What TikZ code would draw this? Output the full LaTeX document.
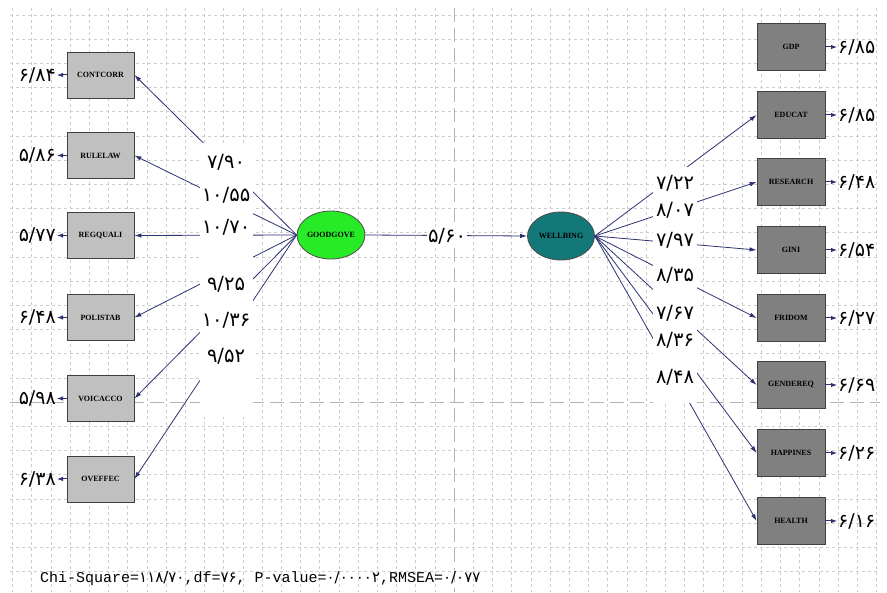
\documentclass[tikz,border=0pt]{standalone}
\usepackage{fontspec}
\usetikzlibrary{shapes.geometric,arrows.meta}
\newfontfamily\fa{DejaVu Sans}
\newfontfamily\boxf{Liberation Serif}
\newfontfamily\monof{Liberation Mono}
\definecolor{gridc}{RGB}{205,205,205}
\definecolor{axisc}{RGB}{180,180,180}
\definecolor{pathc}{RGB}{45,50,115}
\definecolor{lbox}{RGB}{192,192,192}
\definecolor{rbox}{RGB}{128,128,128}
\definecolor{ggreen}{RGB}{40,235,40}
\definecolor{wteal}{RGB}{20,120,120}
\tikzset{
  gridline/.style={draw=gridc, line width=0.6pt, dash pattern=on 3pt off 3pt},
  axisline/.style={draw=axisc, line width=0.7pt, dash pattern=on 14pt off 6pt},
  leftbox/.style={draw=black!75, line width=0.8pt, fill=lbox, minimum width=67pt, minimum height=46pt, inner sep=0pt, font=\boxf\bfseries\fontsize{8}{9}\selectfont},
  rightbox/.style={draw=black!75, line width=0.8pt, fill=rbox, minimum width=68pt, minimum height=47pt, inner sep=0pt, font=\boxf\bfseries\fontsize{8}{9}\selectfont},
  latent/.style={ellipse, draw=black!70, line width=0.8pt, minimum width=67pt, minimum height=48pt, inner sep=0pt, font=\boxf\bfseries\fontsize{8}{9}\selectfont},
  conn/.style={draw=pathc, line width=0.8pt, -{Latex[length=7pt,width=4.5pt]}},
  errarr/.style={draw=pathc, line width=1pt, -{Latex[length=6pt,width=4.5pt]}},
  lbl/.style={fill=white, inner sep=1pt, font=\fa\fontsize{19.5}{20}\selectfont},
  errlbl/.style={inner sep=1pt, font=\fa\fontsize{19}{20}\selectfont},
}
\begin{document}
\begin{tikzpicture}[x=1pt,y=-1pt]
\useasboundingbox (0,0) rectangle (887,593);
\fill[white] (0,0) rectangle (887,593);
% grid
\foreach \k in {0,...,15,17,18,...,23} {
  \pgfmathsetmacro\yy{15+24.2*\k}
  \draw[gridline] (10,\yy) -- (880,\yy);
}
\foreach \k in {0,...,22,24,25,...,45} {
  \pgfmathsetmacro\xx{12.4+19.2*\k}
  \draw[gridline] (\xx,8) -- (\xx,592);
}
\draw[axisline] (10,402) -- (880,402);
\draw[axisline] (454,8) -- (454,592);

% latent variables
\node[latent, fill=ggreen] (gg) at (331,235) {GOODGOVE};
\node[latent, fill=wteal] (wb) at (561,236) {WELLBING};

% left indicators
\node[leftbox] (c1) at (100.5,75) {CONTCORR};
\node[leftbox] (c2) at (100.5,155.5) {RULELAW};
\node[leftbox] (c3) at (100.5,235.5) {REGQUALI};
\node[leftbox] (c4) at (100.5,317.5) {POLISTAB};
\node[leftbox] (c5) at (100.5,398.5) {VOICACCO};
\node[leftbox] (c6) at (100.5,479) {OVEFFEC};

% right indicators
\node[rightbox] (r1) at (791,47) {GDP};
\node[rightbox] (r2) at (791,115) {EDUCAT};
\node[rightbox] (r3) at (791,182) {RESEARCH};
\node[rightbox] (r4) at (791,250) {GINI};
\node[rightbox] (r5) at (791,318) {FRIDOM};
\node[rightbox] (r6) at (791,385) {GENDEREQ};
\node[rightbox] (r7) at (791,453) {HAPPINES};
\node[rightbox] (r8) at (791,521) {HEALTH};

% paths
\foreach \n in {c1,c2,c3,c4,c5,c6} { \draw[conn] (gg.west) -- (\n.east); }
\foreach \n in {r2,r3,r4,r5,r6,r7,r8} { \draw[conn] (wb.east) -- (\n.west); }
\draw[conn] (gg.east) -- (wb.west);

% white label columns
\fill[white] (200,143) rectangle (253,417);
\fill[white] (653,167) rectangle (697,403);

% path labels
\node[lbl] (p1) at (226,162) {۷/۹۰};
\node[lbl] (p2) at (226,195) {۱۰/۵۵};
\node[lbl] (p3) at (226,227) {۱۰/۷۰};
\node[lbl] (p4) at (226,284) {۹/۲۵};
\node[lbl] (p5) at (226,320) {۱۰/۳۶};
\node[lbl] (p6) at (226,356) {۹/۵۲};
\node[lbl] (pm) at (447,236) {۵/۶۰};
\node[lbl] (q1) at (675,183) {۷/۲۲};
\node[lbl] (q2) at (675,210) {۸/۰۷};
\node[lbl] (q3) at (675,240) {۷/۹۷};
\node[lbl] (q4) at (675,275) {۸/۳۵};
\node[lbl] (q5) at (675,313) {۷/۶۷};
\node[lbl] (q6) at (675,340) {۸/۳۶};
\node[lbl] (q7) at (675,377) {۸/۴۸};

% error terms left
\node[errlbl, anchor=east] (e1) at (57,75) {۶/۸۴};
\node[errlbl, anchor=east] (e2) at (57,155.5) {۵/۸۶};
\node[errlbl, anchor=east] (e3) at (57,235.5) {۵/۷۷};
\node[errlbl, anchor=east] (e4) at (57,317.5) {۶/۴۸};
\node[errlbl, anchor=east] (e5) at (57,398.5) {۵/۹۸};
\node[errlbl, anchor=east] (e6) at (57,479) {۶/۳۸};
\foreach \i in {1,...,6} { \draw[errarr] (c\i.west) -- (e\i.east); }

% error terms right
\node[errlbl, anchor=west] (f1) at (837,47) {۶/۸۵};
\node[errlbl, anchor=west] (f2) at (837,115) {۶/۸۵};
\node[errlbl, anchor=west] (f3) at (837,182) {۶/۴۸};
\node[errlbl, anchor=west] (f4) at (837,250) {۶/۵۴};
\node[errlbl, anchor=west] (f5) at (837,318) {۶/۲۷};
\node[errlbl, anchor=west] (f6) at (837,385) {۶/۶۹};
\node[errlbl, anchor=west] (f7) at (837,453) {۶/۲۶};
\node[errlbl, anchor=west] (f8) at (837,521) {۶/۱۶};
\foreach \i in {1,...,8} { \draw[errarr] (r\i.east) -- (f\i.west); }

% fit statistics
\node[anchor=west, inner sep=0pt, font=\fontsize{15}{16}\selectfont] (fitstat) at (40,579)
  {\monof Chi-Square=\fa ۱۱۸/۷۰\monof ,df=\fa ۷۶\monof , P-value=\fa ۰/۰۰۰۰۲\monof ,RMSEA=\fa ۰/۰۷۷};
\end{tikzpicture}
\end{document}
